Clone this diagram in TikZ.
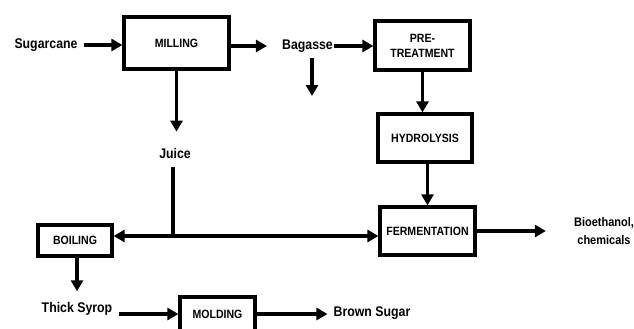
\documentclass[tikz,border=0pt]{standalone}
\usepackage{fontspec}
\setmainfont{Liberation Sans}
\newfontfamily\narrowsans[FakeStretch=0.88]{Liberation Sans}
\usetikzlibrary{arrows.meta}

\begin{document}
\begin{tikzpicture}[x=1pt,y=-1pt,
    blk/.style={draw,line width=3.2pt,align=center,inner sep=0pt,
        font=\narrowsans\bfseries\fontsize{12}{15}\selectfont},
    lbl/.style={inner sep=1pt,font=\narrowsans\bfseries\fontsize{14}{16}\selectfont},
    arr/.style={line width=3.2pt,-{Triangle[length=11pt,width=12pt]}}]
    \clip (0,0) rectangle (634,329);
    \node[blk,minimum width=105pt,minimum height=52pt] (milling) at (176.5,43) {MILLING};
    \node[blk,minimum width=95pt,minimum height=49pt] (pretreat) at (422.5,45.5) {PRE-\\TREATMENT};
    \node[blk,minimum width=94pt,minimum height=48pt] (hydro) at (425,138) {HYDROLYSIS};
    \node[blk,minimum width=95pt,minimum height=48pt] (ferm) at (427.5,231) {FERMENTATION};
    \node[blk,minimum width=74pt,minimum height=31pt] (boiling) at (75,240.5) {BOILING};
    \node[blk,minimum width=75pt,minimum height=34pt] (molding) at (217.5,314) {MOLDING};
    \node[lbl] (sugarcane) at (46,45) {Sugarcane};
    \node[lbl] (bagasse) at (307.5,46) {Bagasse};
    \node[lbl] (juice) at (175,153) {Juice};
    \node[lbl] (syrop) at (77,309) {Thick Syrop};
    \node[lbl] (brown) at (372,313) {Brown Sugar};
    \node[lbl,align=center,font=\narrowsans\bfseries\fontsize{12.5}{18}\selectfont] (bioeth) at (604,231) {Bioethanol,\\chemicals};
    \coordinate (bagdown) at (312,96);
    \coordinate (jn) at (173,236);
    \draw[arr,shorten <=5pt] (sugarcane.east) -- (sugarcane.east -| milling.west);
    \draw[arr,shorten >=14pt] (milling.east |- bagasse) -- (bagasse.west);
    \draw[arr] (bagasse.east) -- (bagasse.east -| pretreat.west);
    \draw[arr,shorten <=5pt] (bagdown |- bagasse.south) -- (bagdown);
    \draw[arr] (pretreat.south) -- (pretreat.south |- hydro.north);
    \draw[arr] (ferm.north |- hydro.south) -- (ferm.north);
    \draw[arr,shorten >=15pt] (milling.south) -- (milling.south |- juice.north);
    \draw[line width=3.2pt,shorten <=8pt] (jn |- juice.south) -- (jn);
    \draw[arr] (jn) -- (jn -| boiling.east);
    \draw[arr] (jn) -- (jn -| ferm.west);
    \draw[arr,shorten >=27pt] (ferm.east) -- (ferm.east -| bioeth.west);
    \draw[arr,shorten >=10pt] (syrop.north |- boiling.south) -- (syrop.north);
    \draw[arr,shorten <=6pt] (molding.west -| syrop.east) -- (molding.west);
    \draw[arr,shorten >=5pt] (molding.east) -- (molding.east -| brown.west);
\end{tikzpicture}
\end{document}
